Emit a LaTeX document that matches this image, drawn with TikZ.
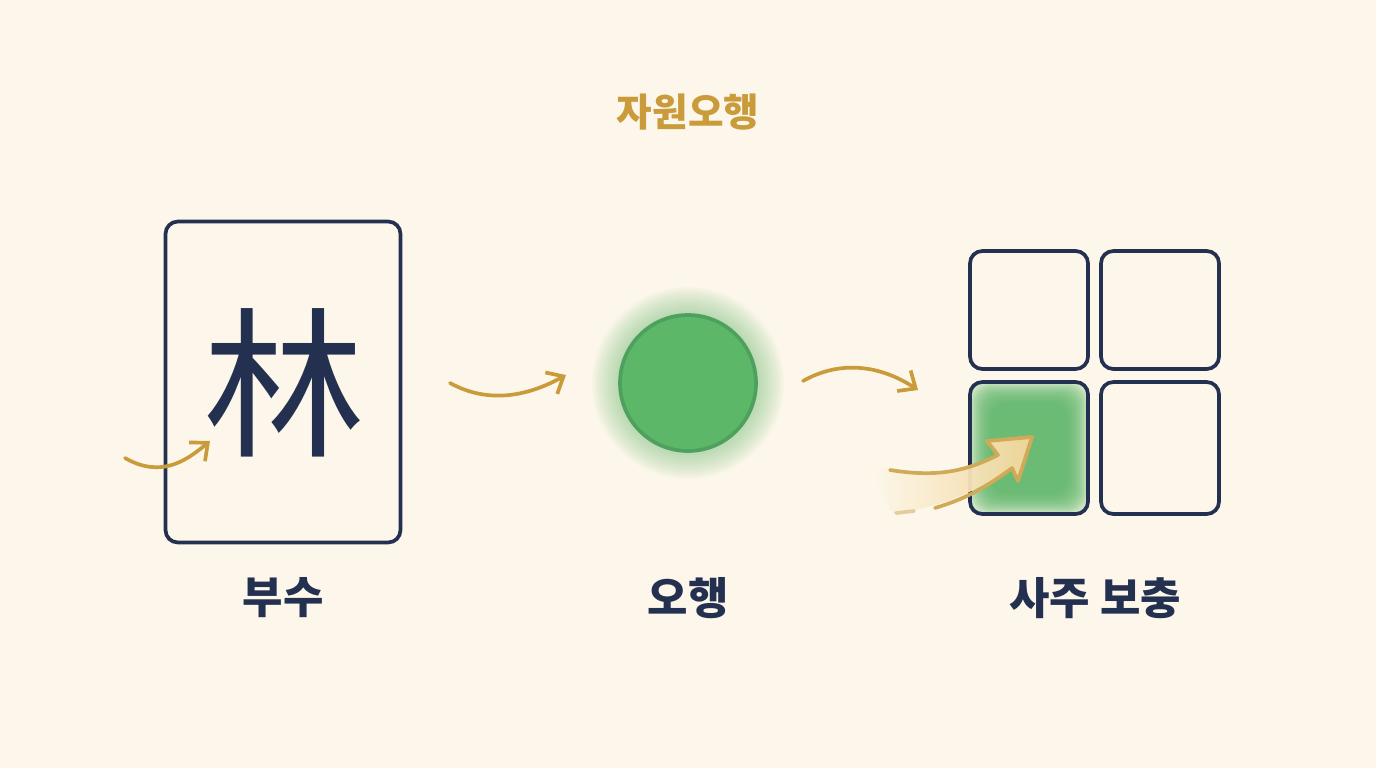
\documentclass[tikz,border=0pt]{standalone}
\usepackage{fontspec}
\usepackage{xcolor}
\usepackage{tikz}
\usetikzlibrary{arrows.meta, positioning, calc}
\newfontfamily\krfont{Noto Sans CJK KR}
\definecolor{cream}{HTML}{FCF7EA}
\definecolor{navy}{HTML}{23304F}
\definecolor{gold}{HTML}{C99B3B}
\definecolor{lightgold}{HTML}{F3D69A}
\definecolor{leaf}{HTML}{5DB769}
\definecolor{ring}{HTML}{4EA15D}

\begin{document}
\begin{tikzpicture}[x=0.02cm, y=-0.02cm, font=\krfont,
	box/.style={draw=navy, line width=2.1pt, rounded corners=7pt, inner sep=0pt},
	flow/.style={gold, line width=2.1pt, line cap=round, -{Straight Barb[length=8pt, width=14pt, line width=2.1pt]}},
	caption/.style={navy, font=\krfont\bfseries\fontsize{25}{30}\selectfont}]
	% background
	\fill[cream] (0,0) rectangle (1376,768);
	\useasboundingbox (0,0) rectangle (1376,768);
	% title
	\node[gold, font=\krfont\bfseries\fontsize{22}{26}\selectfont] (title) at (688,112) {자원오행};
	% radical card
	\node[box, minimum width=4.7cm, minimum height=6.42cm] (card) at (283,382) {};
	\node[navy, font=\krfont\fontsize{92}{92}\selectfont] (lin) at (284,383) {林};
	\coordinate (a1s) at (125,458);
	\coordinate (a1e) at (210,441);
	\draw[flow] (a1s) .. controls (160,478) and (185,462) .. (a1e);
	% five element circle with glow
	\foreach \r in {96,94,...,70}
		\fill[leaf, opacity=0.035] (688,383) circle (\r);
	\node[circle, draw=ring, line width=2.1pt, fill=leaf, minimum size=2.72cm] (wuxing) at (688,383) {};
	\coordinate (a2s) at (450,383);
	\coordinate (a2e) at (566,375);
	\draw[flow] (a2s) .. controls (490,405) and (530,395) .. (a2e);
	% four pillars grid, lower left one filled
	\fill[leaf!30!cream, rounded corners=7pt] (970,382) rectangle (1088,514);
	\foreach \d in {2,4,...,20}
		\fill[leaf, opacity=0.17, rounded corners=10pt] (970+\d,382+\d) rectangle (1088-\d,514-\d);
	\node[box, minimum width=2.36cm, minimum height=2.36cm] (q1) at (1029,310) {};
	\node[box, minimum width=2.36cm, minimum height=2.36cm] (q2) at (1160,310) {};
	\node[box, minimum width=2.36cm, minimum height=2.64cm] (q3) at (1029,448) {};
	\node[box, minimum width=2.36cm, minimum height=2.64cm] (q4) at (1160,448) {};
	\coordinate (a3s) at (803,381);
	\coordinate (a3e) at (918,390);
	\draw[flow] (a3s) .. controls (840,360) and (880,365) .. (a3e);
	% swoosh into the filled pillar
	\shade[left color=cream, right color=lightgold, opacity=0.95]
		(873,467) .. controls (930,478) and (968,470) .. (998,455)
		-- (987,441) -- (1032,437) -- (1018,481) -- (1012,468)
		.. controls (975,492) and (940,508) .. (893,513)
		.. controls (880,500) and (876,480) .. cycle;
	\draw[gold!85, line width=2.1pt, line cap=round, line join=round]
		(890,470) .. controls (940,478) and (968,470) .. (998,455)
		-- (987,441) -- (1032,437) -- (1018,481) -- (1012,468)
		.. controls (985,488) and (965,499) .. (935,508);
	\draw[gold!50, line width=2.1pt, line cap=round] (896,513) -- (914,511);
	% captions
	\node[caption] (radical) at (283,598) {부수};
	\node[caption] (element) at (688,598) {오행};
	\node[caption] (pillar) at (1095,598) {사주 보충};
\end{tikzpicture}
\end{document}
